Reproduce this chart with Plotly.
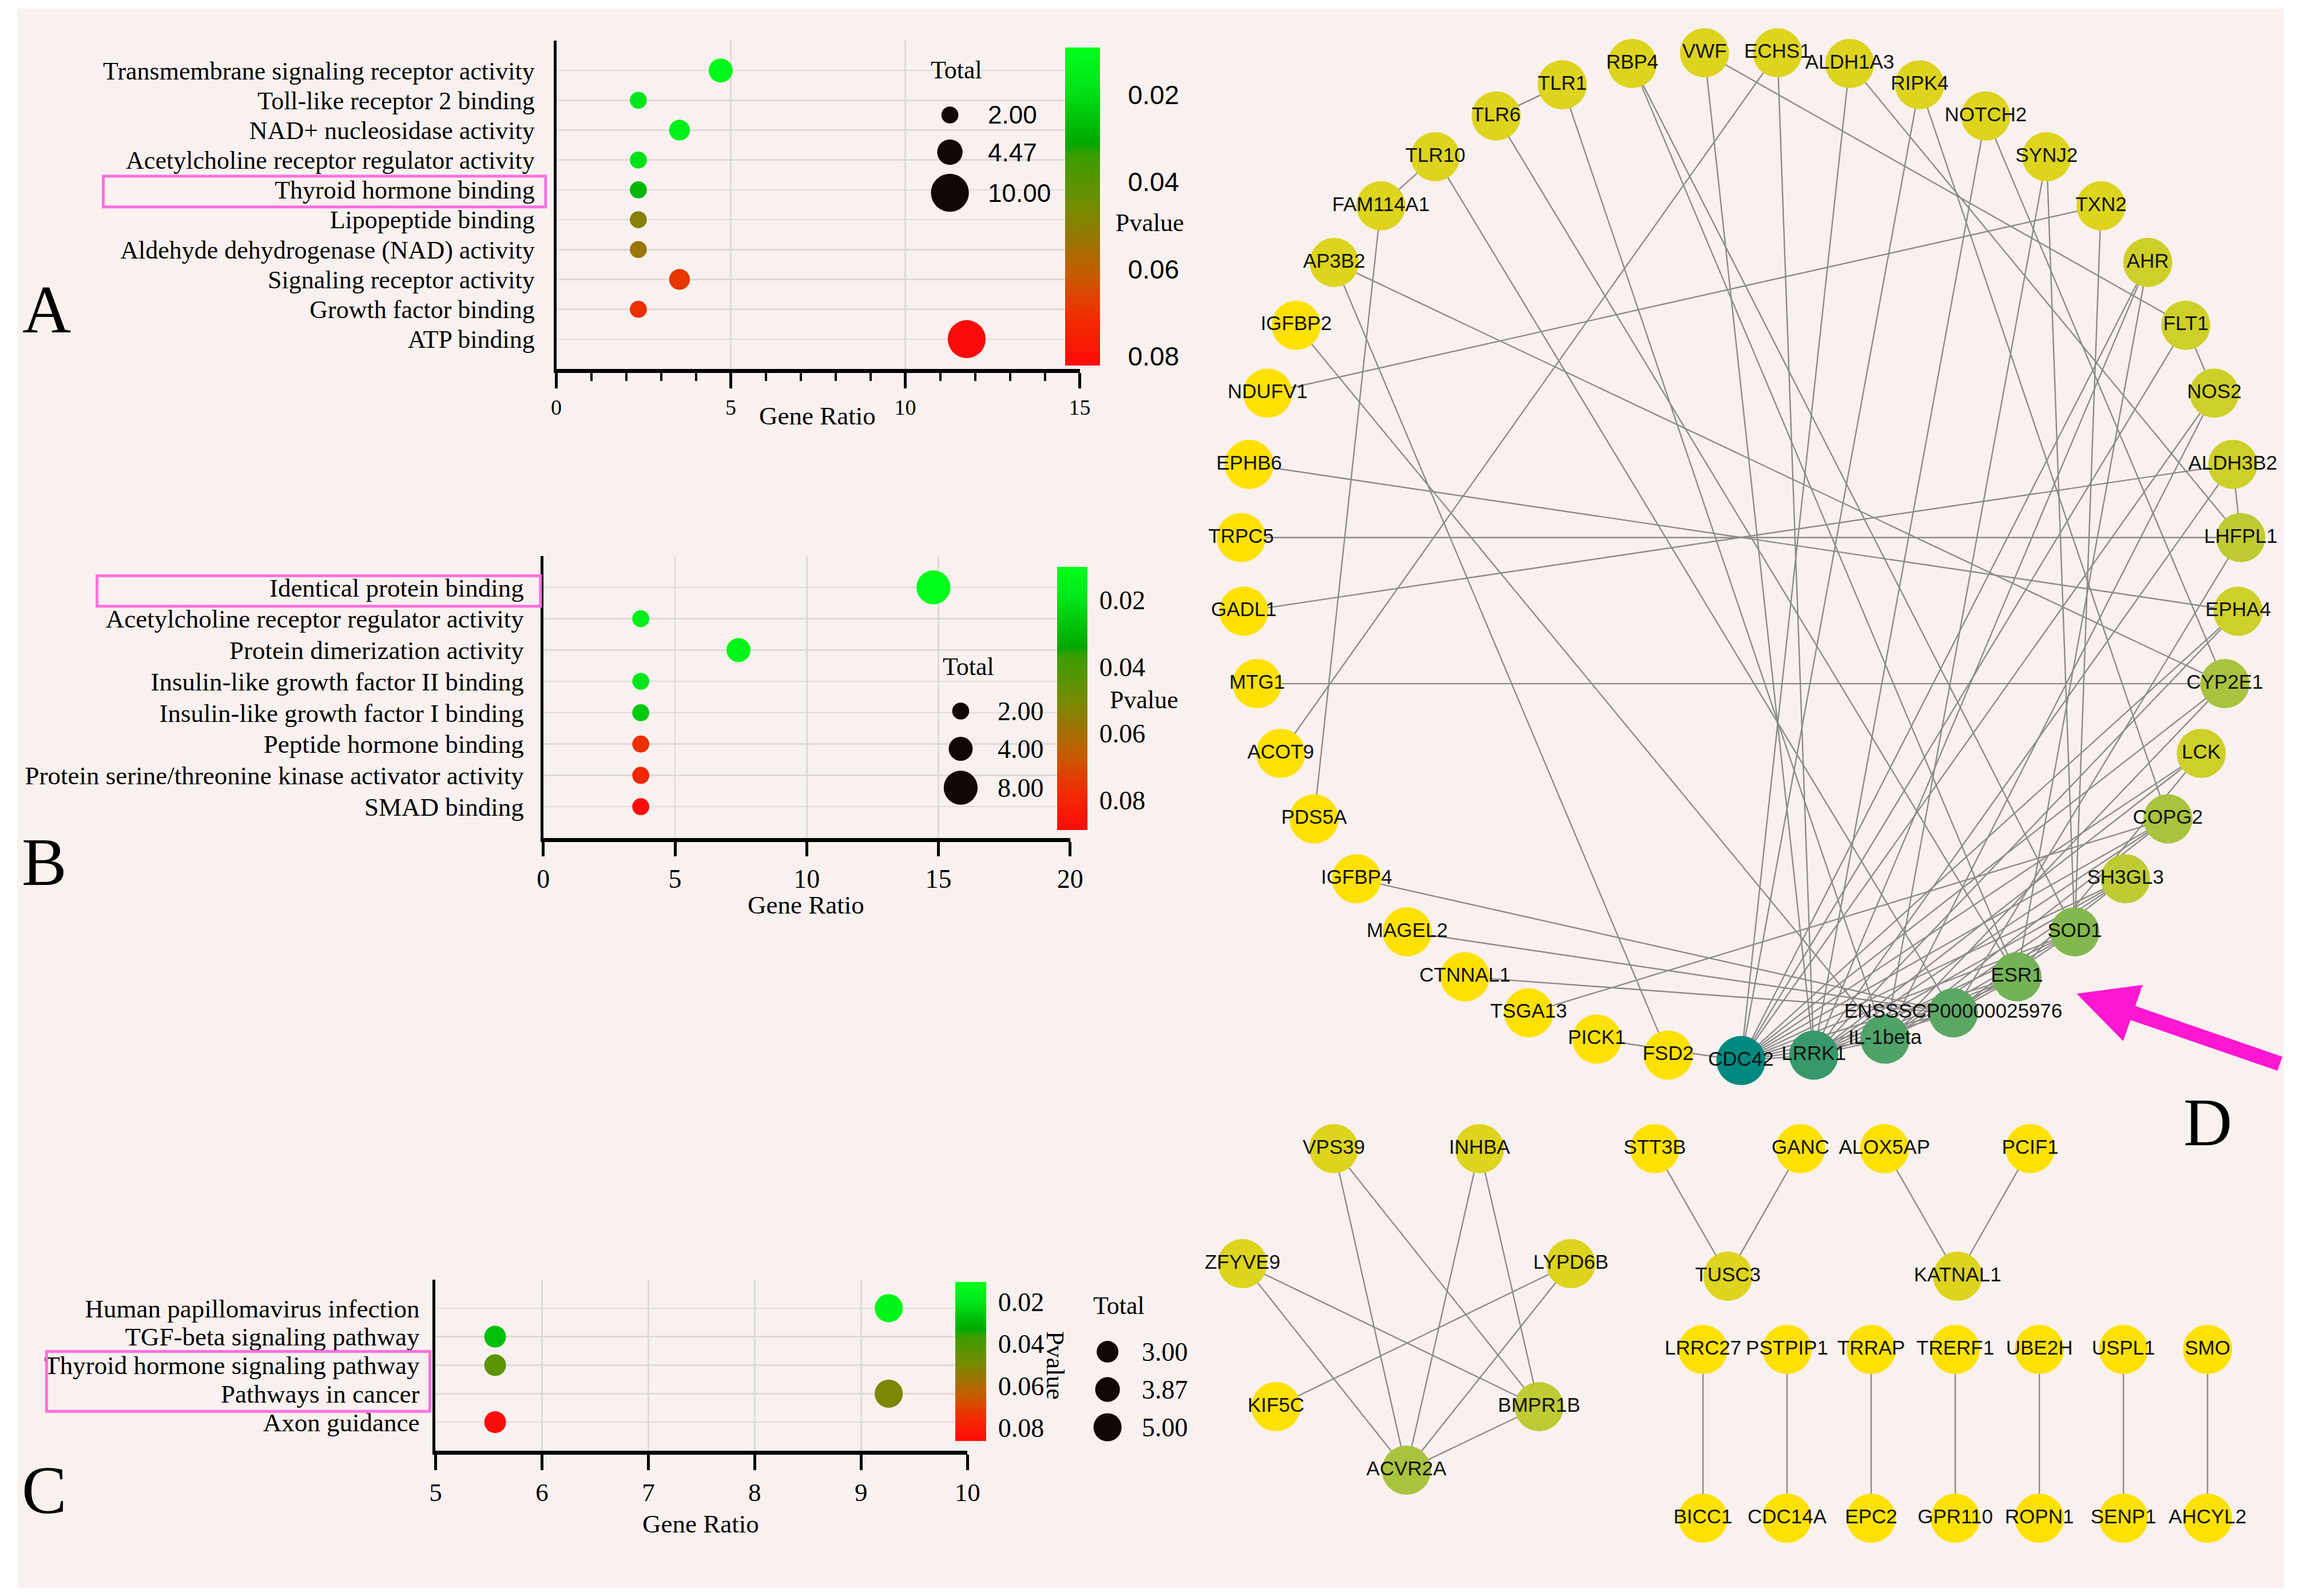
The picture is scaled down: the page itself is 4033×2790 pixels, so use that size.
import numpy as np
import plotly.graph_objects as go

W, H = 4033, 2790
SERIF = "Liberation Serif, Times New Roman, serif"
SANS = "Liberation Sans, Arial, sans-serif"

# ---------------- Panel A (GO molecular function) ----------------
A_terms = ["Transmembrane signaling receptor activity", "Toll-like receptor 2 binding",
           "NAD+ nucleosidase activity", "Acetylcholine receptor regulator activity",
           "Thyroid hormone binding", "Lipopeptide binding",
           "Aldehyde dehydrogenase (NAD) activity", "Signaling receptor activity",
           "Growth factor binding", "ATP binding"]
A_ratio = [4.71, 2.35, 3.53, 2.35, 2.35, 2.35, 2.35, 3.53, 2.35, 11.76]
A_total = [4, 2, 3, 2, 2, 2, 2, 3, 2, 10]
A_pvalue = [0.012, 0.017, 0.014, 0.019, 0.028, 0.049, 0.053, 0.069, 0.071, 0.082]
A_size_legend = [2.00, 4.47, 10.00]
A_pvalue_range = [0.0091, 0.0821]

# ---------------- Panel B ----------------
B_terms = ["Identical protein binding", "Acetylcholine receptor regulator activity",
           "Protein dimerization activity", "Insulin-like growth factor II binding",
           "Insulin-like growth factor I binding", "Peptide hormone binding",
           "Protein serine/threonine kinase activator activity", "SMAD binding"]
B_ratio = [14.81, 3.70, 7.41, 3.70, 3.70, 3.70, 3.70, 3.70]
B_total = [8, 2, 4, 2, 2, 2, 2, 2]
B_pvalue = [0.0101, 0.016, 0.014, 0.019, 0.026, 0.077, 0.080, 0.0889]
B_size_legend = [2.00, 4.00, 8.00]
B_pvalue_range = [0.0101, 0.0889]

# ---------------- Panel C (KEGG) ----------------
C_terms = ["Human papillomavirus infection", "TGF-beta signaling pathway",
           "Thyroid hormone signaling pathway", "Pathways in cancer", "Axon guidance"]
C_ratio = [9.26, 5.56, 5.56, 9.26, 5.56]
C_total = [5, 3, 3, 5, 3]
C_pvalue = [0.014, 0.028, 0.043, 0.050, 0.0863]
C_size_legend = [3.00, 3.87, 5.00]
C_pvalue_range = [0.0105, 0.0863]

# ---------------- Panel D (PPI network) ----------------
ENS = "ENSSSCP00000025976"
circle_nodes = ["VWF", "ECHS1", "ALDH1A3", "RIPK4", "NOTCH2", "SYNJ2", "TXN2", "AHR", "FLT1",
                "NOS2", "ALDH3B2", "LHFPL1", "EPHA4", "CYP2E1", "LCK", "COPG2", "SH3GL3",
                "SOD1", "ESR1", ENS, "IL-1beta", "LRRK1", "CDC42", "FSD2", "PICK1", "TSGA13",
                "CTNNAL1", "MAGEL2", "IGFBP4", "PDS5A", "ACOT9", "MTG1", "GADL1", "TRPC5",
                "EPHB6", "NDUFV1", "IGFBP2", "AP3B2", "FAM114A1", "TLR10", "TLR6", "TLR1", "RBP4"]
circle_edges = [
    ("TLR6", "TLR1"), ("TLR10", "FAM114A1"), ("FAM114A1", "PDS5A"), ("ECHS1", "ACOT9"),
    ("TXN2", "NDUFV1"), ("ALDH3B2", "GADL1"), ("LHFPL1", "TRPC5"), ("EPHB6", "EPHA4"),
    ("MTG1", "CYP2E1"), ("TSGA13", "COPG2"), ("AP3B2", "FSD2"), ("VWF", "FLT1"),
    ("FLT1", "NOS2"), ("ALDH3B2", "LHFPL1"), ("PICK1", "CDC42"),
    ("IGFBP4", ENS), ("MAGEL2", ENS), ("CTNNAL1", ENS), ("IGFBP2", "IL-1beta"),
    ("AP3B2", "CYP2E1"), ("TLR1", "IL-1beta"), ("TLR6", "ESR1"), ("TLR10", ENS),
    ("RBP4", "ESR1"), ("RBP4", "SOD1"), ("VWF", "LRRK1"), ("ECHS1", "LRRK1"),
    ("ALDH1A3", "CDC42"), ("ALDH1A3", "LHFPL1"), ("RIPK4", "CDC42"), ("RIPK4", "COPG2"),
    ("NOTCH2", "LRRK1"), ("NOTCH2", "CYP2E1"), ("SYNJ2", "IL-1beta"), ("SYNJ2", "SOD1"),
    ("TXN2", "SOD1"), ("AHR", "CDC42"), ("AHR", "LRRK1"), ("AHR", "ESR1"),
    ("FLT1", "CDC42"), ("NOS2", "CDC42"), ("NOS2", "IL-1beta"), ("ALDH3B2", "LRRK1"),
    ("LHFPL1", ENS), ("EPHA4", "CDC42"), ("EPHA4", "LRRK1"), ("CYP2E1", "IL-1beta"),
    ("CYP2E1", "CDC42"), ("LCK", "CDC42"), ("LCK", "LRRK1"), ("LCK", "ESR1"),
    ("COPG2", "CDC42"), ("COPG2", "LRRK1"), ("COPG2", "IL-1beta"), ("SH3GL3", "CDC42"),
    ("SH3GL3", "LRRK1"), ("SH3GL3", "IL-1beta"), ("SH3GL3", ENS), ("SOD1", "CDC42"),
    ("SOD1", "LRRK1"), ("SOD1", "IL-1beta"), ("SOD1", ENS), ("ESR1", "CDC42"),
    ("ESR1", "LRRK1"), ("ESR1", "IL-1beta"), ("ESR1", ENS), (ENS, "CDC42"), (ENS, "LRRK1"),
    ("IL-1beta", "CDC42"), ("IL-1beta", "LRRK1"), ("LRRK1", "CDC42")]

# small components (layout positions of the network drawing)
component_layout = {
    "VPS39": (2340, 2008), "INHBA": (2597, 2008), "ZFYVE9": (2179, 2209),
    "LYPD6B": (2758, 2209), "KIF5C": (2238, 2459), "BMPR1B": (2702, 2459),
    "ACVR2A": (2468, 2570),
    "STT3B": (2906, 2008), "GANC": (3163, 2008), "TUSC3": (3035, 2231),
    "ALOX5AP": (3311, 2008), "PCIF1": (3568, 2008), "KATNAL1": (3440, 2231),
}
component_edges = [
    ("VPS39", "ACVR2A"), ("VPS39", "BMPR1B"), ("INHBA", "ACVR2A"), ("INHBA", "BMPR1B"),
    ("ZFYVE9", "ACVR2A"), ("ZFYVE9", "BMPR1B"), ("LYPD6B", "ACVR2A"), ("LYPD6B", "KIF5C"),
    ("ACVR2A", "BMPR1B"), ("STT3B", "TUSC3"), ("GANC", "TUSC3"),
    ("ALOX5AP", "KATNAL1"), ("PCIF1", "KATNAL1")]
pair_top = ["LRRC27", "PSTPIP1", "TRRAP", "TRERF1", "UBE2H", "USPL1", "SMO"]
pair_bottom = ["BICC1", "CDC14A", "EPC2", "GPR110", "ROPN1", "SENP1", "AHCYL2"]


def fx(px):
    return px / W


def fy(py):
    return 1 - py / H


# p-value colour scale (listed from the top of the bar = small p, green, to bottom = red)
P_SCALE_TOP_DOWN = [(0.0, "#00FF1A"), (0.12, "#00E619"), (0.30, "#00A800"), (0.34, "#3A9E00"),
                    (0.50, "#738C00"), (0.62, "#A07200"), (0.72, "#C85A00"), (0.84, "#EE3000"),
                    (1.0, "#FF0A0A")]
pscale = [[round(1 - f, 4), c] for f, c in reversed(P_SCALE_TOP_DOWN)]

fig = go.Figure()
shapes = []
annotations = []

# pink background panel
shapes.append(dict(type="rect", xref="paper", yref="paper", x0=fx(18), x1=fx(4015),
                    y0=fy(2776), y1=fy(15), fillcolor="#F9F1EF", line=dict(width=0),
                    layer="below"))

panels = [
    dict(n="", terms=A_terms, ratio=A_ratio, total=A_total, p=A_pvalue, prange=A_pvalue_range,
         leg=A_size_legend, k=21, box=(969, 1892, 71, 645), xr=[0, 15], dtick=5, minor=1,
         tickfont=38, catfont=44, standoff=24, ticklen=27,
         cb=(1866, 1927, 83, 639), cbfont=dict(family=SANS, size=46), cblen=40,
         legx=1663, legy=[201, 266, 337], leglab=1728, legfont=dict(family=SANS, size=44),
         total_xy=(1675, 122), pv=(2015, 390, 0), gr=(1429, 727),
         hl=(170, 950, 4 - 0.46, 4 + 0.57), letter=("A", 70, 541)),
    dict(n="2", terms=B_terms, ratio=B_ratio, total=B_total, p=B_pvalue, prange=B_pvalue_range,
         leg=B_size_legend, k=21, box=(946, 1875, 972, 1465), xr=[0, 20], dtick=5, minor=None,
         tickfont=46, catfont=45, standoff=20, ticklen=25,
         cb=(1852, 1905, 991, 1451), cbfont=dict(family=SERIF, size=46), cblen=12,
         legx=1682, legy=[1243, 1309, 1377], leglab=1745, legfont=dict(family=SERIF, size=46),
         total_xy=(1696, 1165), pv=(2005, 1223, 0), gr=(1409, 1582),
         hl=(159, 941, 0 - 0.37, 0 + 0.6), letter=("B", 66, 1508)),
    dict(n="3", terms=C_terms, ratio=C_ratio, total=C_total, p=C_pvalue, prange=C_pvalue_range,
         leg=C_size_legend, k=22, box=(756, 1694, 2237, 2536), xr=[5, 10], dtick=1, minor=None,
         tickfont=45, catfont=45, standoff=14, ticklen=27,
         cb=(1673, 1727, 2241, 2519), cbfont=dict(family=SERIF, size=46), cblen=12,
         legx=1941, legy=[2363, 2429, 2495], leglab=1999, legfont=dict(family=SERIF, size=46),
         total_xy=(1961, 2282), pv=(1849, 2387, 90), gr=(1224, 2664),
         hl=(70, 746, 2 - 0.48, 3 + 0.62), letter=("C", 66, 2605)),
]

layout_axes = {}
for P in panels:
    n = P["n"]
    nrow = len(P["terms"])
    x0, x1, y0, y1 = P["box"]
    rows = list(range(nrow))
    diam = P["k"] * np.sqrt(np.array(P["total"], dtype=float))
    lo, hi = P["prange"]
    cbx0, cbx1, cbt, cbb = P["cb"]
    fig.add_trace(go.Scatter(
        x=P["ratio"], y=rows, mode="markers", xaxis="x" + n, yaxis="y" + n,
        showlegend=False, hoverinfo="skip",
        marker=dict(size=diam, color=-np.array(P["p"]), cmin=-hi, cmax=-lo,
                    colorscale=pscale, line=dict(width=0), opacity=1,
                    colorbar=dict(x=fx(cbx0), xanchor="left", xpad=0,
                                  y=fy(cbt), yanchor="top", ypad=0,
                                  len=(cbb - cbt) / H, lenmode="fraction",
                                  thickness=cbx1 - cbx0, thicknessmode="pixels",
                                  outlinewidth=0, bgcolor="rgba(0,0,0,0)",
                                  tickmode="array", tickvals=[-0.02, -0.04, -0.06, -0.08],
                                  ticktext=["0.02", "0.04", "0.06", "0.08"],
                                  ticks="outside", ticklen=P["cblen"],
                                  tickcolor="rgba(0,0,0,0)",
                                  tickfont=dict(color="black", **P["cbfont"])))))
    xa = dict(domain=[fx(x0), fx(x1)], range=P["xr"], anchor="y" + n, showgrid=True,
              gridcolor="#DEDADA", gridwidth=2.5, zeroline=False, showline=True,
              linecolor="black", linewidth=7, ticks="outside", ticklen=P["ticklen"],
              tickwidth=5, tickcolor="black", dtick=P["dtick"], tick0=P["xr"][0],
              tickfont=dict(family=SERIF, size=P["tickfont"], color="black"),
              fixedrange=True)
    if P["minor"]:
        xa["minor"] = dict(dtick=P["minor"], ticks="outside", ticklen=14, tickwidth=4,
                           tickcolor="black", showgrid=False)
    ya = dict(domain=[fy(y1), fy(y0)], range=[nrow, -1], anchor="x" + n, showgrid=True,
              gridcolor="#DEDADA", gridwidth=2.5, zeroline=False, showline=True,
              linecolor="black", linewidth=5, ticks="", tickmode="array",
              tickvals=list(range(-1, nrow)), ticktext=[""] + P["terms"],
              ticklabelstandoff=P["standoff"],
              tickfont=dict(family=SERIF, size=P["catfont"], color="black"), fixedrange=True)
    layout_axes["xaxis" + n] = xa
    layout_axes["yaxis" + n] = ya

    # white inside tick dashes on the colour bar
    for v in [0.02, 0.04, 0.06, 0.08]:
        yy = cbt + (v - lo) / (hi - lo) * (cbb - cbt)
        for a, b in [(cbx0 + 2, cbx0 + 13), (cbx1 - 13, cbx1 - 2)]:
            shapes.append(dict(type="line", xref="paper", yref="paper", x0=fx(a), x1=fx(b),
                               y0=fy(yy), y1=fy(yy), line=dict(color="white", width=3),
                               layer="above"))
    # size legend
    tx, ty = P["total_xy"]
    annotations.append(dict(text="Total", x=fx(tx), y=fy(ty), xref="paper", yref="paper",
                            showarrow=False, xanchor="center", yanchor="middle",
                            font=dict(family=SERIF, size=44, color="black")))
    for val, cy in zip(P["leg"], P["legy"]):
        d = P["k"] * np.sqrt(val)
        shapes.append(dict(type="circle", xref="paper", yref="paper", xsizemode="pixel",
                           ysizemode="pixel", xanchor=fx(P["legx"]), yanchor=fy(cy),
                           x0=-d / 2, x1=d / 2, y0=-d / 2, y1=d / 2,
                           fillcolor="#120707", line=dict(width=0), layer="above"))
        annotations.append(dict(text=f"{val:.2f}", x=fx(P["leglab"]), y=fy(cy), xref="paper",
                                yref="paper", showarrow=False, xanchor="left",
                                yanchor="middle", font=dict(color="black", **P["legfont"])))
    px_, py_, ang = P["pv"]
    annotations.append(dict(text="Pvalue", x=fx(px_), y=fy(py_), xref="paper", yref="paper",
                            showarrow=False, xanchor="center", yanchor="middle",
                            textangle=ang, font=dict(family=SERIF, size=44, color="black")))
    gx, gy = P["gr"]
    annotations.append(dict(text="Gene Ratio", x=fx(gx), y=fy(gy), xref="paper",
                            yref="paper", showarrow=False, xanchor="center",
                            yanchor="middle", font=dict(family=SERIF, size=45, color="black")))
    hx0, hx1, hy0, hy1 = P["hl"]
    shapes.append(dict(type="rect", xref="paper", yref="y" + n, x0=fx(hx0), x1=fx(hx1),
                       y0=hy0, y1=hy1, line=dict(color="#FF6FE0", width=5),
                       fillcolor="rgba(0,0,0,0)", layer="above"))
    L, lx, ly = P["letter"]
    annotations.append(dict(text=L, x=fx(lx), y=fy(ly), xref="paper", yref="paper",
                            showarrow=False, xanchor="center", yanchor="middle",
                            font=dict(family=SERIF, size=118, color="black")))

# ---------------- network ----------------
pos = {}
cx, cy, R = 3058, 972, 882
step = 360.0 / len(circle_nodes)
for i, name in enumerate(circle_nodes):
    th = np.deg2rad(-step / 2 + i * step)
    pos[name] = (cx + R * np.sin(th), cy - R * np.cos(th))
pos.update(component_layout)
for j, (a, b) in enumerate(zip(pair_top, pair_bottom)):
    pos[a] = (2991 + j * 148.3, 2359)
    pos[b] = (2991 + j * 148.3, 2654)
pair_edges = list(zip(pair_top, pair_bottom))
all_edges = circle_edges + component_edges + pair_edges

ex, ey = [], []
for a, b in all_edges:
    ex += [pos[a][0], pos[b][0], None]
    ey += [pos[a][1], pos[b][1], None]
fig.add_trace(go.Scatter(x=ex, y=ey, mode="lines", xaxis="x4", yaxis="y4",
                         line=dict(color="#8E8A8A", width=2.4), hoverinfo="skip",
                         showlegend=False))

names = list(pos.keys())
deg = {k: 0 for k in names}
for a, b in all_edges:
    deg[a] += 1
    deg[b] += 1
net_scale = [[0, "#FFE100"], [0.067, "#DDD41E"], [0.2, "#BFCB34"], [0.333, "#93BC48"],
             [0.47, "#72B257"], [0.65, "#52A468"], [0.85, "#3E9A68"], [1, "#00897F"]]
fig.add_trace(go.Scatter(
    x=[pos[k][0] for k in names], y=[pos[k][1] for k in names], mode="markers+text",
    text=names, textposition="middle center", xaxis="x4", yaxis="y4",
    textfont=dict(family=SANS, size=35, color="#111111"), hoverinfo="skip", showlegend=False,
    marker=dict(size=86, color=[deg[k] for k in names], colorscale=net_scale, cmin=1,
                cmax=max(deg.values()), line=dict(width=0), showscale=False)))

layout_axes["xaxis4"] = dict(domain=[0, 1], range=[0, W], visible=False, anchor="y4",
                             fixedrange=True)
layout_axes["yaxis4"] = dict(domain=[0, 1], range=[H, 0], visible=False, anchor="x4",
                             fixedrange=True)

# magenta arrow pointing at ESR1
annotations.append(dict(x=3650, y=1737, ax=4010, ay=1860, xref="x4", yref="y4",
                        axref="x4", ayref="y4", text="", showarrow=True, arrowhead=2,
                        arrowsize=0.8, arrowwidth=26, arrowcolor="#FF17D2"))
annotations.append(dict(text="D", x=fx(3881), y=fy(1962), xref="paper", yref="paper",
                        showarrow=False, xanchor="center", yanchor="middle",
                        font=dict(family=SERIF, size=118, color="black")))

fig.update_layout(width=W, height=H, margin=dict(l=0, r=0, t=0, b=0),
                  paper_bgcolor="white", plot_bgcolor="rgba(0,0,0,0)",
                  shapes=shapes, annotations=annotations, showlegend=False, **layout_axes)

fig.write_html("out.html", config={"displayModeBar": False, "staticPlot": True},
               post_script="document.body.style.margin='0px';")
